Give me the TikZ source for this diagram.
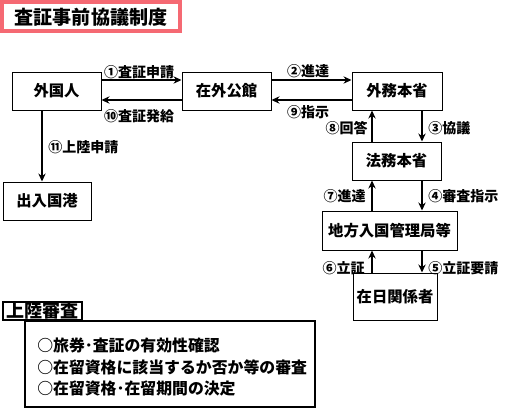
\documentclass[tikz,border=0pt]{standalone}
\usepackage{fontspec}
\setmainfont{Noto Sans CJK JP}
\usetikzlibrary{arrows.meta}
\definecolor{titlepink}{RGB}{245,105,115}
\tikzset{
  office/.style={draw, line width=0.75pt, fill=white, inner sep=0pt,
    font=\fontsize{11.5}{12}\selectfont\bfseries,
    minimum width=66.75pt, minimum height=28.5pt},
  flow/.style={line width=1.5pt, -{Stealth[length=6pt,width=5.5pt]}},
  tag/.style={inner sep=0.75pt, font=\fontsize{10.5}{11}\selectfont\bfseries},
  check/.style={anchor=west, inner sep=0pt, font=\fontsize{11.9}{12}\selectfont\bfseries}
}
\begin{document}
\begin{tikzpicture}[x=0.75pt,y=0.75pt,yscale=-1,xscale=1]
\useasboundingbox (0,0) rectangle (505,411);

%Title
\draw [line width=3pt, draw=titlepink, fill=white] (2,2) rectangle (180,31);
\node (title) at (91,17) [inner sep=0pt, font=\fontsize{14.3}{15}\selectfont\bfseries] {査証事前協議制度};

%Offices
\node (foreigner) at (56.5,91) [office] {外国人};
\node (embassy) at (226.5,91) [office] {在外公館};
\node (mofa) at (397,91) [office, minimum width=67.5pt] {外務本省};
\node (moj) at (396.5,161) [office] {法務本省};
\node (bureau) at (389.5,230.5) [office, minimum width=101.25pt, minimum height=29.25pt] {地方入国管理局等};
\node (relative) at (395,296.5) [office, minimum width=63pt, minimum height=35.25pt] {在日関係者};
\node (port) at (47,201) [office, minimum width=66pt] {出入国港};

%Arrow rows and columns
\coordinate (hi) at (0,80);
\coordinate (lo) at (0,100);
\coordinate (upx) at (372,0);
\coordinate (dnx) at (422,0);
\coordinate (landx) at (42,0);

\draw [flow] (foreigner.east |- hi) -- (embassy.west |- hi);
\draw [flow] (embassy.west |- lo) -- (foreigner.east |- lo);
\draw [flow] (embassy.east |- hi) -- (mofa.west |- hi);
\draw [flow] (mofa.west |- lo) -- (embassy.east |- lo);
\draw [flow] (dnx |- mofa.south) -- (dnx |- moj.north);
\draw [flow] (upx |- moj.north) -- (upx |- mofa.south);
\draw [flow] (dnx |- moj.south) -- (dnx |- bureau.north);
\draw [flow] (upx |- bureau.north) -- (upx |- moj.south);
\draw [flow] (dnx |- bureau.south) -- (dnx |- relative.north);
\draw [flow] (upx |- relative.north) -- (upx |- bureau.south);
\draw [flow] (landx |- foreigner.south) -- (landx |- port.north);

% Text Nodes
\node (t1) at (139,72) [tag] {①査証申請};
\node (t10) at (139,116) [tag] {⑩査証発給};
\node (t2) at (308,71) [tag] {②進達};
\node (t9) at (308,112) [tag] {⑨指示};
\node (t8) at (369,128) [tag, anchor=east] {⑧回答};
\node (t3) at (427,128) [tag, anchor=west] {③協議};
\node (t7) at (367,196) [tag, anchor=east] {⑦進達};
\node (t4) at (427,196) [tag, anchor=west] {④審査指示};
\node (t6) at (366,268) [tag, anchor=east] {⑥立証};
\node (t5) at (427,268) [tag, anchor=west] {⑤立証要請};
\node (t11) at (47,147) [tag, anchor=west] {⑪上陸申請};

%Landing examination
\draw [line width=1.5pt] (25,321) rectangle (315,407);
\node (exam) at (42.5,311) [draw, line width=1.5pt, fill=white, inner sep=0pt,
  minimum width=59.25pt, minimum height=13.5pt, font=\fontsize{13.5}{14}\selectfont\bfseries] {上陸審査};
\node (c1) at (37,345) [check] {○旅券･査証の有効性確認};
\node (c2) at (37,367) [check] {○在留資格に該当するか否か等の審査};
\node (c3) at (37,388) [check] {○在留資格･在留期間の決定};

\end{tikzpicture}
\end{document}
